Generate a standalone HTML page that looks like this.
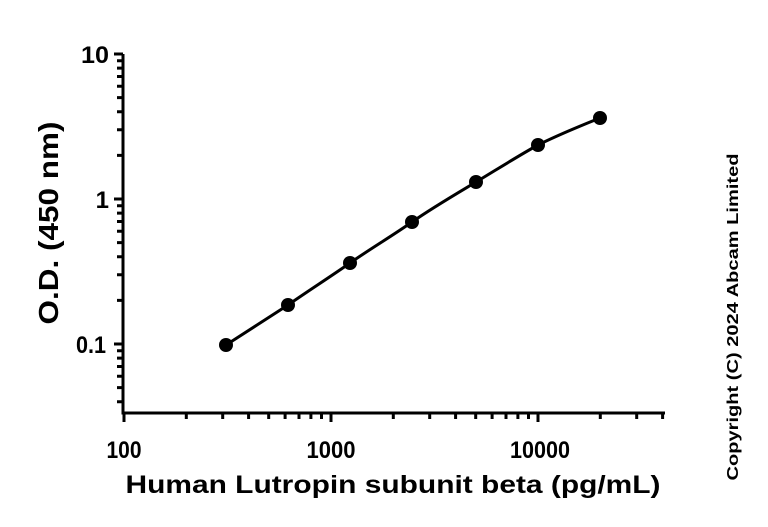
<!DOCTYPE html>
<html><head><meta charset="utf-8"><style>html,body{margin:0;padding:0;background:#fff}</style></head><body>
<svg width="768" height="522" viewBox="0 0 768 522" xmlns="http://www.w3.org/2000/svg" font-family="Liberation Sans, Arial, sans-serif">
<rect width="768" height="522" fill="#fff"/>
<g stroke="#000" stroke-width="3" fill="none">
<path d="M123,54 V413 H665"/>
<path d="M114,54H123 M114,199H123 M114,344H123"/>
<path d="M117,155.4H123 M117,129.8H123 M117,111.7H123 M117,97.6H123 M117,86.2H123 M117,76.5H123 M117,68.1H123 M117,60.7H123
M117,300.4H123 M117,274.8H123 M117,256.7H123 M117,242.6H123 M117,231.2H123 M117,221.5H123 M117,213.1H123 M117,205.7H123
M117,401.7H123 M117,387.6H123 M117,376.2H123 M117,366.5H123 M117,358.1H123 M117,350.7H123"/>
<path d="M124,413V422 M331,413V422 M538,413V422"/>
<path d="M186.3,413V419 M222.7,413V419 M248.6,413V419 M268.7,413V419 M285.1,413V419 M299,413V419 M310.9,413V419 M321.5,413V419
M393.3,413V419 M429.7,413V419 M455.6,413V419 M475.7,413V419 M492.1,413V419 M506,413V419 M517.9,413V419 M528.5,413V419
M600.3,413V419 M636.7,413V419 M662.6,413V419"/>
<path d="M226,345 C246,332 268,318 288,305 C308,291 330,277 350,263 C370,249 392,236 412,222 C432,208 456,194 476,182 C496,170 518,156 538,145 C558,135 580,126 600,118"/>
</g>
<g fill="#000">
<circle cx="226" cy="345" r="7"/><circle cx="288" cy="305" r="7"/><circle cx="350" cy="263" r="7"/><circle cx="412" cy="222" r="7"/><circle cx="476" cy="182" r="7"/><circle cx="538" cy="145" r="7"/><circle cx="600" cy="118" r="7"/>
</g>
<g font-size="24" font-weight="bold" fill="#000" text-anchor="end">
<text x="109" y="63" textLength="28" lengthAdjust="spacingAndGlyphs">10</text>
<text x="109" y="208">1</text>
<text x="106" y="353" textLength="30" lengthAdjust="spacingAndGlyphs">0.1</text>
</g>
<g font-size="24" font-weight="bold" fill="#000" text-anchor="middle">
<text x="124" y="458" textLength="35" lengthAdjust="spacingAndGlyphs">100</text>
<text x="331" y="458" textLength="49" lengthAdjust="spacingAndGlyphs">1000</text>
<text x="540" y="458" textLength="60" lengthAdjust="spacingAndGlyphs">10000</text>
</g>
<text x="393" y="493" font-size="25" font-weight="bold" text-anchor="middle" textLength="535" lengthAdjust="spacingAndGlyphs">Human Lutropin subunit beta (pg/mL)</text>
<text transform="translate(58,223) rotate(-90)" font-size="28" font-weight="bold" text-anchor="middle" textLength="203" lengthAdjust="spacingAndGlyphs">O.D. (450 nm)</text>
<text transform="translate(738,317) rotate(-90)" font-size="16" font-weight="bold" text-anchor="middle" textLength="327" lengthAdjust="spacingAndGlyphs">Copyright (C) 2024 Abcam Limited</text>
</svg>
</body></html>
